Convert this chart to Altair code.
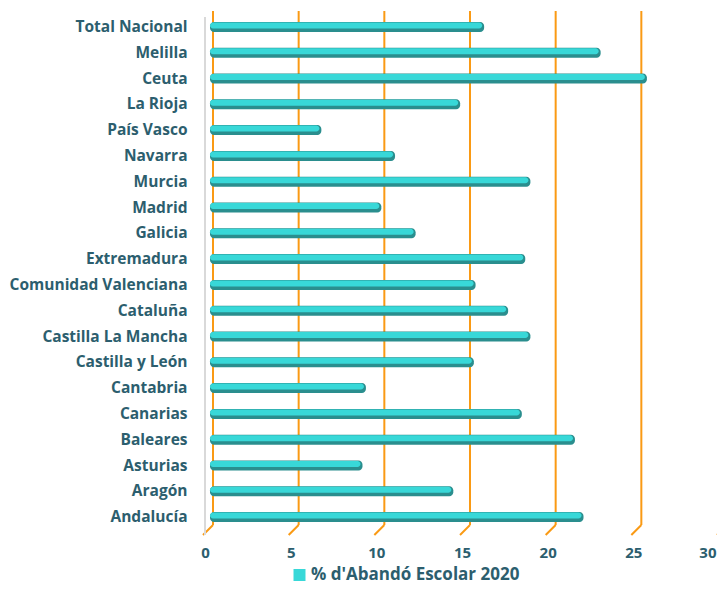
import altair as alt
import pandas as pd

regions = ["Total Nacional", "Melilla", "Ceuta", "La Rioja", "País Vasco", "Navarra",
           "Murcia", "Madrid", "Galicia", "Extremadura", "Comunidad Valenciana",
           "Cataluña", "Castilla La Mancha", "Castilla y León", "Cantabria",
           "Canarias", "Baleares", "Asturias", "Aragón", "Andalucía"]
values = [16.0, 22.8, 25.5, 14.6, 6.5, 10.8, 18.7, 10.0, 12.0, 18.4, 15.5,
          17.4, 18.7, 15.4, 9.1, 18.2, 21.3, 8.9, 14.2, 21.8]
ticks = [0, 5, 10, 15, 20, 25, 30]
series = "% d'Abandó Escolar 2020"

df = pd.DataFrame({"region": regions, "value": values, "serie": series})
tdf = pd.DataFrame({"t": ticks})

LABEL = "#2C5E6E"
FONT = "Open Sans"
ORANGE = "#FA9A14"

xs = alt.Scale(domain=[0, 30], nice=False, zero=True)
ys = alt.Scale(domain=regions, paddingInner=0, paddingOuter=0)

xaxis = alt.Axis(values=ticks, title=None, grid=False, domain=False, ticks=False,
                 tickSize=0,
                 labelOffset={"condition": {"test": "datum.value == 30", "value": -11},
                              "value": -8},
                 labelAlign={"condition": {"test": "datum.value == 30", "value": "right"},
                             "value": "center"},
                 labelPadding=15, labelFlush=False,
                 labelFont=FONT, labelFontSize=15, labelFontWeight="bold",
                 labelColor=LABEL)
yaxis = alt.Axis(title=None, domain=False, ticks=False, tickSize=0, labelPadding=26,
                 labelFont=FONT, labelFontSize=15.5, labelFontWeight="bold",
                 labelColor=LABEL, labelLimit=0)

grid = alt.Chart(tdf).mark_rule(color=ORANGE, strokeWidth=2).encode(
    x=alt.X("t:Q", scale=xs, axis=xaxis),
    y=alt.value(-3), y2=alt.value(511))

foot = alt.Chart(tdf).mark_rule(color=ORANGE, strokeWidth=2, x2Offset=-10).encode(
    x=alt.X("t:Q", scale=xs, axis=xaxis), x2="t:Q",
    y=alt.value(511), y2=alt.value(521))

wall = alt.Chart(tdf).transform_filter("datum.t == 0").mark_rule(
    color="#d9d9d9", strokeWidth=2, xOffset=-8).encode(
    x=alt.X("t:Q", scale=xs, axis=xaxis),
    y=alt.value(3), y2=alt.value(521))

yenc = alt.Y("region:N", scale=ys, axis=yaxis)

dark = alt.Chart(df).mark_bar(color="#2A8E8E", size=10, cornerRadius=4,
                              xOffset=-3, x2Offset=-3).encode(
    x=alt.X("value:Q", scale=xs, axis=xaxis), x2=alt.datum(0), y=yenc)

light = alt.Chart(df).mark_bar(size=6, cornerRadius=3, xOffset=-5, x2Offset=-3,
                               yOffset=-1.5).encode(
    x=alt.X("value:Q", scale=xs, axis=xaxis), x2=alt.datum(0), y=yenc,
    color=alt.Color("serie:N", scale=alt.Scale(range=["#38D8D8"]),
                    legend=alt.Legend(title=None, orient="none", legendX=78,
                                      legendY=552.5, symbolType="square",
                                      symbolSize=144, symbolStrokeWidth=0,
                                      symbolOpacity=1, labelLimit=0,
                                      labelFont=FONT, labelFontSize=17,
                                      labelFontWeight="bold", labelColor=LABEL,
                                      labelOffset=3)))

chart = alt.layer(grid, foot, wall, dark, light).properties(
    width=514, height=516,
    padding={"left": 205, "top": 6, "right": -10, "bottom": 57},
    autosize=alt.AutoSizeParams(type="none"),
).configure_view(stroke=None)

chart.save("out.html", embed_options={"renderer": "svg", "actions": False})
